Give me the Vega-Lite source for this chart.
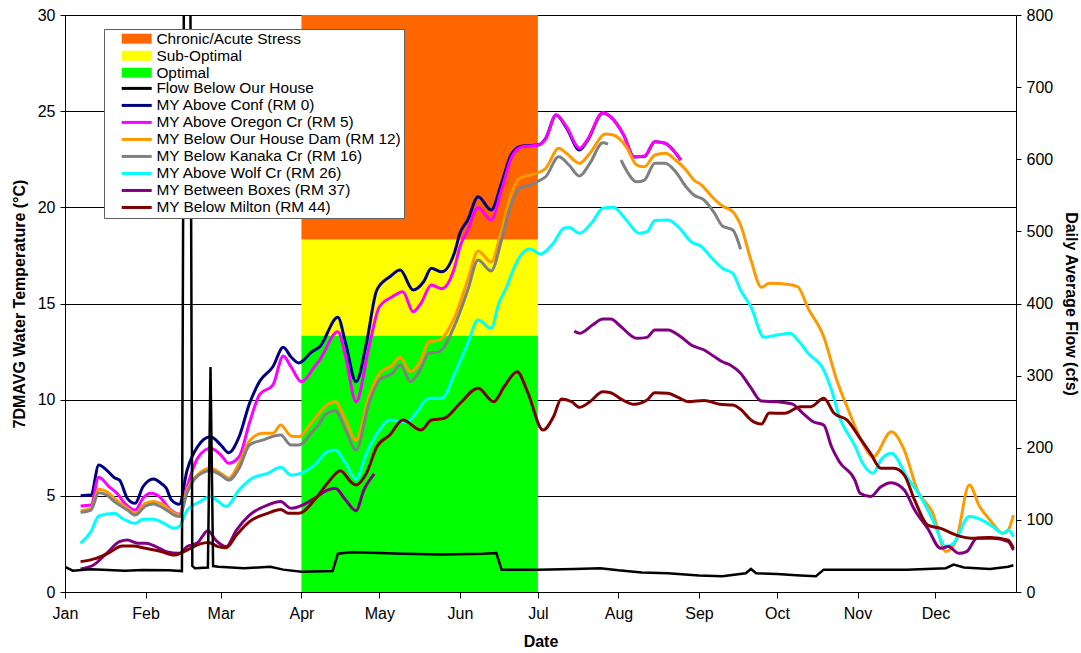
{
"$schema": "https://vega.github.io/schema/vega-lite/v6.json",
"width": 951, "height": 577,
"autosize": {"type": "none"},
"padding": {"left": 65, "top": 15, "right": 65, "bottom": 61},
"config": {"font": "Liberation Sans", "view": {"stroke": null}, "axis": {"labelColor": "black", "titleColor": "black", "domainColor": "black", "tickColor": "black", "labelFontSize": 16, "titleFontSize": 16, "titleFontWeight": "bold", "labelFont": "Liberation Sans", "titleFont": "Liberation Sans"}},
"datasets": {
"names": [
{"k":"N","s":"MY Above Conf (RM 0)"},{"k":"M","s":"MY Above Oregon Cr (RM 5)"},{"k":"O","s":"MY Below Our House Dam (RM 12)"},{"k":"G","s":"MY Below Kanaka Cr (RM 16)"},{"k":"C","s":"MY Above Wolf Cr (RM 26)"},{"k":"P","s":"MY Between Boxes (RM 37)"},{"k":"R","s":"MY Below Milton (RM 44)"}
],
"bands": [
{"s":"Optimal","start":"2008-04-01","end":"2008-07-01","lo":0,"hi":13.33},
{"s":"Sub-Optimal","start":"2008-04-01","end":"2008-07-01","lo":13.33,"hi":18.33},
{"s":"Chronic/Acute Stress","start":"2008-04-01","end":"2008-07-01","lo":18.33,"hi":30}
],
"temp": [
{"k":"N","d":"2008-01-07","v":5.01},{"k":"N","d":"2008-01-11","v":5.04},{"k":"N","d":"2008-01-14","v":6.60},{"k":"N","d":"2008-01-17","v":6.34},{"k":"N","d":"2008-01-20","v":5.94},{"k":"N","d":"2008-01-22","v":5.82},{"k":"N","d":"2008-01-25","v":4.87},{"k":"N","d":"2008-01-28","v":4.61},{"k":"N","d":"2008-01-31","v":5.47},{"k":"N","d":"2008-02-04","v":5.88},{"k":"N","d":"2008-02-07","v":5.65},{"k":"N","d":"2008-02-09","v":5.39},{"k":"N","d":"2008-02-11","v":4.78},{"k":"N","d":"2008-02-14","v":4.56},{"k":"N","d":"2008-02-17","v":6.34},{"k":"N","d":"2008-02-21","v":7.55},{"k":"N","d":"2008-02-26","v":8.07},{"k":"N","d":"2008-03-01","v":7.64},{"k":"N","d":"2008-03-04","v":7.24},{"k":"N","d":"2008-03-08","v":8.07},{"k":"N","d":"2008-03-12","v":9.8},{"k":"N","d":"2008-03-16","v":10.97},{"k":"N","d":"2008-03-21","v":11.71},{"k":"N","d":"2008-03-25","v":12.72},{"k":"N","d":"2008-03-28","v":12.22},{"k":"N","d":"2008-03-31","v":11.91},{"k":"N","d":"2008-04-05","v":12.49},{"k":"N","d":"2008-04-08","v":12.74},{"k":"N","d":"2008-04-15","v":14.28},{"k":"N","d":"2008-04-18","v":12.93},{"k":"N","d":"2008-04-22","v":10.93},{"k":"N","d":"2008-04-26","v":12.93},{"k":"N","d":"2008-04-30","v":15.70},{"k":"N","d":"2008-05-05","v":16.39},{"k":"N","d":"2008-05-09","v":16.74},{"k":"N","d":"2008-05-14","v":15.70},{"k":"N","d":"2008-05-18","v":16.13},{"k":"N","d":"2008-05-21","v":16.83},{"k":"N","d":"2008-05-25","v":16.65},{"k":"N","d":"2008-05-30","v":17.69},{"k":"N","d":"2008-06-01","v":18.65},{"k":"N","d":"2008-06-04","v":19.34},{"k":"N","d":"2008-06-08","v":20.55},{"k":"N","d":"2008-06-13","v":19.86},{"k":"N","d":"2008-06-17","v":21.25},{"k":"N","d":"2008-06-21","v":22.81},{"k":"N","d":"2008-06-25","v":23.19},{"k":"N","d":"2008-07-01","v":23.24},{"k":"N","d":"2008-07-04","v":23.59},{"k":"N","d":"2008-07-08","v":24.80},{"k":"N","d":"2008-07-12","v":24.13},{"k":"N","d":"2008-07-17","v":22.98},{"k":"N","d":"2008-07-20","v":23.45},{"k":"N","d":"2008-07-26","v":24.91},{"k":"N","d":"2008-07-29","v":24.70},{"k":"N","d":"2008-08-03","v":23.76},{"k":"N","d":"2008-08-07","v":22.62},{"k":"N","d":"2008-08-11","v":22.64},{"k":"N","d":"2008-08-15","v":23.41},{"k":"N","d":"2008-08-19","v":23.33},{"k":"N","d":"2008-08-22","v":22.98},{"k":"N","d":"2008-08-25","v":22.46},
{"k":"M","d":"2008-01-07","v":4.47},{"k":"M","d":"2008-01-11","v":4.52},{"k":"M","d":"2008-01-14","v":5.96},{"k":"M","d":"2008-01-18","v":5.47},{"k":"M","d":"2008-01-21","v":5.13},{"k":"M","d":"2008-01-24","v":4.61},{"k":"M","d":"2008-01-28","v":4.26},{"k":"M","d":"2008-01-31","v":4.87},{"k":"M","d":"2008-02-03","v":5.13},{"k":"M","d":"2008-02-07","v":4.87},{"k":"M","d":"2008-02-10","v":4.35},{"k":"M","d":"2008-02-14","v":4.04},{"k":"M","d":"2008-02-17","v":5.47},{"k":"M","d":"2008-02-21","v":6.95},{"k":"M","d":"2008-02-26","v":7.47},{"k":"M","d":"2008-03-01","v":7.12},{"k":"M","d":"2008-03-04","v":6.69},{"k":"M","d":"2008-03-08","v":7.03},{"k":"M","d":"2008-03-12","v":8.8},{"k":"M","d":"2008-03-16","v":10.29},{"k":"M","d":"2008-03-21","v":10.76},{"k":"M","d":"2008-03-25","v":12.27},{"k":"M","d":"2008-03-28","v":11.70},{"k":"M","d":"2008-04-01","v":10.93},{"k":"M","d":"2008-04-06","v":11.71},{"k":"M","d":"2008-04-08","v":12.06},{"k":"M","d":"2008-04-15","v":13.53},{"k":"M","d":"2008-04-18","v":12.23},{"k":"M","d":"2008-04-22","v":9.89},{"k":"M","d":"2008-04-27","v":12.75},{"k":"M","d":"2008-05-01","v":14.83},{"k":"M","d":"2008-05-06","v":15.35},{"k":"M","d":"2008-05-10","v":15.61},{"k":"M","d":"2008-05-14","v":14.57},{"k":"M","d":"2008-05-17","v":15.01},{"k":"M","d":"2008-05-21","v":15.96},{"k":"M","d":"2008-05-25","v":15.77},{"k":"M","d":"2008-05-30","v":16.91},{"k":"M","d":"2008-06-01","v":17.95},{"k":"M","d":"2008-06-04","v":18.82},{"k":"M","d":"2008-06-08","v":19.99},{"k":"M","d":"2008-06-13","v":19.34},{"k":"M","d":"2008-06-17","v":20.90},{"k":"M","d":"2008-06-21","v":22.63},{"k":"M","d":"2008-06-25","v":23.15},{"k":"M","d":"2008-07-01","v":23.24},{"k":"M","d":"2008-07-04","v":23.55},{"k":"M","d":"2008-07-08","v":24.80},{"k":"M","d":"2008-07-12","v":24.19},{"k":"M","d":"2008-07-17","v":23.07},{"k":"M","d":"2008-07-20","v":23.50},{"k":"M","d":"2008-07-26","v":24.92},{"k":"M","d":"2008-07-29","v":24.71},{"k":"M","d":"2008-08-03","v":23.76},{"k":"M","d":"2008-08-07","v":22.63},{"k":"M","d":"2008-08-11","v":22.67},{"k":"M","d":"2008-08-15","v":23.41},{"k":"M","d":"2008-08-19","v":23.33},{"k":"M","d":"2008-08-22","v":22.98},{"k":"M","d":"2008-08-25","v":22.46},
{"k":"O","d":"2008-01-07","v":4.23},{"k":"O","d":"2008-01-11","v":4.35},{"k":"O","d":"2008-01-14","v":5.34},{"k":"O","d":"2008-01-17","v":5.22},{"k":"O","d":"2008-01-20","v":4.87},{"k":"O","d":"2008-01-25","v":4.35},{"k":"O","d":"2008-01-28","v":4.09},{"k":"O","d":"2008-02-01","v":4.61},{"k":"O","d":"2008-02-04","v":4.70},{"k":"O","d":"2008-02-08","v":4.52},{"k":"O","d":"2008-02-12","v":4.09},{"k":"O","d":"2008-02-14","v":4.00},{"k":"O","d":"2008-02-17","v":5.30},{"k":"O","d":"2008-02-21","v":6.08},{"k":"O","d":"2008-02-26","v":6.43},{"k":"O","d":"2008-03-01","v":6.17},{"k":"O","d":"2008-03-04","v":5.91},{"k":"O","d":"2008-03-08","v":6.69},{"k":"O","d":"2008-03-12","v":7.85},{"k":"O","d":"2008-03-17","v":8.25},{"k":"O","d":"2008-03-21","v":8.25},{"k":"O","d":"2008-03-24","v":8.68},{"k":"O","d":"2008-03-28","v":8.11},{"k":"O","d":"2008-03-31","v":8.07},{"k":"O","d":"2008-04-05","v":8.84},{"k":"O","d":"2008-04-08","v":9.33},{"k":"O","d":"2008-04-10","v":9.63},{"k":"O","d":"2008-04-14","v":9.89},{"k":"O","d":"2008-04-18","v":8.94},{"k":"O","d":"2008-04-22","v":7.90},{"k":"O","d":"2008-04-27","v":10.15},{"k":"O","d":"2008-05-01","v":11.37},{"k":"O","d":"2008-05-06","v":11.80},{"k":"O","d":"2008-05-09","v":12.20},{"k":"O","d":"2008-05-13","v":11.45},{"k":"O","d":"2008-05-17","v":12.06},{"k":"O","d":"2008-05-20","v":13.01},{"k":"O","d":"2008-05-24","v":13.10},{"k":"O","d":"2008-05-30","v":14.31},{"k":"O","d":"2008-06-04","v":16.22},{"k":"O","d":"2008-06-08","v":17.73},{"k":"O","d":"2008-06-13","v":17.16},{"k":"O","d":"2008-06-17","v":18.82},{"k":"O","d":"2008-06-20","v":20.38},{"k":"O","d":"2008-06-24","v":21.51},{"k":"O","d":"2008-06-28","v":21.68},{"k":"O","d":"2008-07-02","v":21.85},{"k":"O","d":"2008-07-04","v":22.03},{"k":"O","d":"2008-07-09","v":23.07},{"k":"O","d":"2008-07-12","v":22.81},{"k":"O","d":"2008-07-17","v":22.29},{"k":"O","d":"2008-07-21","v":22.81},{"k":"O","d":"2008-07-27","v":23.81},{"k":"O","d":"2008-07-30","v":23.76},{"k":"O","d":"2008-08-04","v":23.15},{"k":"O","d":"2008-08-08","v":22.20},{"k":"O","d":"2008-08-11","v":22.11},{"k":"O","d":"2008-08-15","v":22.72},{"k":"O","d":"2008-08-19","v":22.81},{"k":"O","d":"2008-08-23","v":22.46},{"k":"O","d":"2008-08-27","v":21.94},{"k":"O","d":"2008-08-30","v":21.42},{"k":"O","d":"2008-09-02","v":21.16},{"k":"O","d":"2008-09-06","v":20.55},{"k":"O","d":"2008-09-10","v":20.07},{"k":"O","d":"2008-09-14","v":19.77},{"k":"O","d":"2008-09-17","v":19.08},{"k":"O","d":"2008-09-21","v":17.26},{"k":"O","d":"2008-09-25","v":15.84},{"k":"O","d":"2008-09-28","v":16.05},{"k":"O","d":"2008-10-05","v":16.00},{"k":"O","d":"2008-10-09","v":15.87},{"k":"O","d":"2008-10-13","v":14.75},{"k":"O","d":"2008-10-19","v":13.27},{"k":"O","d":"2008-10-24","v":11.02},{"k":"O","d":"2008-10-29","v":9.29},{"k":"O","d":"2008-11-03","v":7.73},{"k":"O","d":"2008-11-07","v":7.03},{"k":"O","d":"2008-11-14","v":8.33},{"k":"O","d":"2008-11-19","v":7.38},{"k":"O","d":"2008-11-24","v":5.30},{"k":"O","d":"2008-11-30","v":4.09},{"k":"O","d":"2008-12-05","v":2.10},{"k":"O","d":"2008-12-09","v":2.70},{"k":"O","d":"2008-12-14","v":5.56},{"k":"O","d":"2008-12-18","v":4.44},{"k":"O","d":"2008-12-22","v":3.74},{"k":"O","d":"2008-12-27","v":3.05},{"k":"O","d":"2008-12-29","v":3.22},{"k":"O","d":"2008-12-31","v":4.00},
{"k":"G","g":"a","d":"2008-01-07","v":4.14},{"k":"G","g":"a","d":"2008-01-11","v":4.26},{"k":"G","g":"a","d":"2008-01-14","v":5.16},{"k":"G","g":"a","d":"2008-01-17","v":5.04},{"k":"G","g":"a","d":"2008-01-20","v":4.70},{"k":"G","g":"a","d":"2008-01-25","v":4.26},{"k":"G","g":"a","d":"2008-01-28","v":4.00},{"k":"G","g":"a","d":"2008-02-01","v":4.47},{"k":"G","g":"a","d":"2008-02-04","v":4.58},{"k":"G","g":"a","d":"2008-02-08","v":4.35},{"k":"G","g":"a","d":"2008-02-12","v":4.00},{"k":"G","g":"a","d":"2008-02-14","v":3.92},{"k":"G","g":"a","d":"2008-02-17","v":5.16},{"k":"G","g":"a","d":"2008-02-21","v":6.03},{"k":"G","g":"a","d":"2008-02-26","v":6.31},{"k":"G","g":"a","d":"2008-03-01","v":6.08},{"k":"G","g":"a","d":"2008-03-04","v":5.82},{"k":"G","g":"a","d":"2008-03-08","v":6.43},{"k":"G","g":"a","d":"2008-03-12","v":7.64},{"k":"G","g":"a","d":"2008-03-17","v":7.90},{"k":"G","g":"a","d":"2008-03-24","v":8.16},{"k":"G","g":"a","d":"2008-03-28","v":7.64},{"k":"G","g":"a","d":"2008-03-31","v":7.64},{"k":"G","g":"a","d":"2008-04-05","v":8.29},{"k":"G","g":"a","d":"2008-04-08","v":8.77},{"k":"G","g":"a","d":"2008-04-10","v":9.20},{"k":"G","g":"a","d":"2008-04-14","v":9.43},{"k":"G","g":"a","d":"2008-04-18","v":8.42},{"k":"G","g":"a","d":"2008-04-22","v":7.38},{"k":"G","g":"a","d":"2008-04-27","v":9.81},{"k":"G","g":"a","d":"2008-05-01","v":11.02},{"k":"G","g":"a","d":"2008-05-06","v":11.37},{"k":"G","g":"a","d":"2008-05-09","v":11.80},{"k":"G","g":"a","d":"2008-05-13","v":10.93},{"k":"G","g":"a","d":"2008-05-17","v":11.63},{"k":"G","g":"a","d":"2008-05-20","v":12.41},{"k":"G","g":"a","d":"2008-05-24","v":12.49},{"k":"G","g":"a","d":"2008-05-30","v":13.88},{"k":"G","g":"a","d":"2008-06-04","v":15.70},{"k":"G","g":"a","d":"2008-06-08","v":17.26},{"k":"G","g":"a","d":"2008-06-13","v":16.69},{"k":"G","g":"a","d":"2008-06-17","v":18.30},{"k":"G","g":"a","d":"2008-06-20","v":19.86},{"k":"G","g":"a","d":"2008-06-24","v":20.99},{"k":"G","g":"a","d":"2008-06-28","v":21.16},{"k":"G","g":"a","d":"2008-07-02","v":21.42},{"k":"G","g":"a","d":"2008-07-04","v":21.59},{"k":"G","g":"a","d":"2008-07-09","v":22.63},{"k":"G","g":"a","d":"2008-07-13","v":22.20},{"k":"G","g":"a","d":"2008-07-17","v":21.63},{"k":"G","g":"a","d":"2008-07-21","v":22.29},{"k":"G","g":"a","d":"2008-07-26","v":23.36},{"k":"G","g":"a","d":"2008-07-28","v":23.29},
{"k":"G","g":"b","d":"2008-08-02","v":22.46},{"k":"G","g":"b","d":"2008-08-04","v":21.94},{"k":"G","g":"b","d":"2008-08-08","v":21.33},{"k":"G","g":"b","d":"2008-08-11","v":21.42},{"k":"G","g":"b","d":"2008-08-15","v":22.29},{"k":"G","g":"b","d":"2008-08-19","v":22.29},{"k":"G","g":"b","d":"2008-08-23","v":21.85},{"k":"G","g":"b","d":"2008-08-27","v":21.07},{"k":"G","g":"b","d":"2008-08-30","v":20.64},{"k":"G","g":"b","d":"2008-09-03","v":20.38},{"k":"G","g":"b","d":"2008-09-07","v":19.69},{"k":"G","g":"b","d":"2008-09-10","v":19.03},{"k":"G","g":"b","d":"2008-09-14","v":18.82},{"k":"G","g":"b","d":"2008-09-17","v":17.82},
{"k":"C","d":"2008-01-07","v":2.53},{"k":"C","d":"2008-01-11","v":3.14},{"k":"C","d":"2008-01-14","v":3.95},{"k":"C","d":"2008-01-20","v":4.09},{"k":"C","d":"2008-01-23","v":3.83},{"k":"C","d":"2008-01-28","v":3.57},{"k":"C","d":"2008-01-31","v":3.78},{"k":"C","d":"2008-02-04","v":3.78},{"k":"C","d":"2008-02-08","v":3.57},{"k":"C","d":"2008-02-12","v":3.31},{"k":"C","d":"2008-02-14","v":3.40},{"k":"C","d":"2008-02-17","v":4.26},{"k":"C","d":"2008-02-22","v":4.70},{"k":"C","d":"2008-02-26","v":4.96},{"k":"C","d":"2008-02-29","v":4.70},{"k":"C","d":"2008-03-03","v":4.44},{"k":"C","d":"2008-03-08","v":5.30},{"k":"C","d":"2008-03-13","v":5.91},{"k":"C","d":"2008-03-19","v":6.17},{"k":"C","d":"2008-03-24","v":6.48},{"k":"C","d":"2008-03-28","v":6.08},{"k":"C","d":"2008-03-31","v":6.14},{"k":"C","d":"2008-04-06","v":6.60},{"k":"C","d":"2008-04-11","v":7.30},{"k":"C","d":"2008-04-14","v":7.38},{"k":"C","d":"2008-04-18","v":6.69},{"k":"C","d":"2008-04-22","v":5.86},{"k":"C","d":"2008-04-26","v":7.21},{"k":"C","d":"2008-05-01","v":8.42},{"k":"C","d":"2008-05-05","v":8.94},{"k":"C","d":"2008-05-12","v":8.85},{"k":"C","d":"2008-05-15","v":9.29},{"k":"C","d":"2008-05-20","v":10.07},{"k":"C","d":"2008-05-25","v":10.07},{"k":"C","d":"2008-05-30","v":11.37},{"k":"C","d":"2008-06-04","v":12.93},{"k":"C","d":"2008-06-08","v":14.14},{"k":"C","d":"2008-06-13","v":13.71},{"k":"C","d":"2008-06-16","v":15.01},{"k":"C","d":"2008-06-19","v":15.87},{"k":"C","d":"2008-06-22","v":16.91},{"k":"C","d":"2008-06-24","v":17.43},{"k":"C","d":"2008-06-28","v":17.83},{"k":"C","d":"2008-07-02","v":17.57},{"k":"C","d":"2008-07-07","v":18.15},{"k":"C","d":"2008-07-11","v":18.91},{"k":"C","d":"2008-07-13","v":18.95},{"k":"C","d":"2008-07-17","v":18.65},{"k":"C","d":"2008-07-22","v":19.25},{"k":"C","d":"2008-07-26","v":19.95},{"k":"C","d":"2008-07-30","v":20.00},{"k":"C","d":"2008-08-04","v":19.34},{"k":"C","d":"2008-08-09","v":18.65},{"k":"C","d":"2008-08-12","v":18.73},{"k":"C","d":"2008-08-15","v":19.31},{"k":"C","d":"2008-08-20","v":19.34},{"k":"C","d":"2008-08-24","v":18.99},{"k":"C","d":"2008-08-29","v":18.21},{"k":"C","d":"2008-09-02","v":17.95},{"k":"C","d":"2008-09-06","v":17.35},{"k":"C","d":"2008-09-10","v":16.83},{"k":"C","d":"2008-09-14","v":16.57},{"k":"C","d":"2008-09-17","v":15.70},{"k":"C","d":"2008-09-21","v":14.83},{"k":"C","d":"2008-09-26","v":13.24},{"k":"C","d":"2008-10-01","v":13.36},{"k":"C","d":"2008-10-06","v":13.45},{"k":"C","d":"2008-10-09","v":13.10},{"k":"C","d":"2008-10-13","v":12.41},{"k":"C","d":"2008-10-19","v":11.54},{"k":"C","d":"2008-10-22","v":10.50},{"k":"C","d":"2008-10-25","v":9.11},{"k":"C","d":"2008-10-31","v":7.60},{"k":"C","d":"2008-11-03","v":6.69},{"k":"C","d":"2008-11-07","v":6.17},{"k":"C","d":"2008-11-10","v":6.86},{"k":"C","d":"2008-11-14","v":7.21},{"k":"C","d":"2008-11-20","v":5.99},{"k":"C","d":"2008-11-26","v":4.78},{"k":"C","d":"2008-11-30","v":3.74},{"k":"C","d":"2008-12-05","v":2.36},{"k":"C","d":"2008-12-08","v":2.53},{"k":"C","d":"2008-12-14","v":3.92},{"k":"C","d":"2008-12-20","v":3.66},{"k":"C","d":"2008-12-23","v":3.40},{"k":"C","d":"2008-12-27","v":3.05},{"k":"C","d":"2008-12-29","v":3.22},{"k":"C","d":"2008-12-31","v":2.88},
{"k":"P","g":"a","d":"2008-01-07","v":1.20},{"k":"P","g":"a","d":"2008-01-12","v":1.40},{"k":"P","g":"a","d":"2008-01-17","v":2.01},{"k":"P","g":"a","d":"2008-01-22","v":2.62},{"k":"P","g":"a","d":"2008-01-25","v":2.70},{"k":"P","g":"a","d":"2008-01-29","v":2.53},{"k":"P","g":"a","d":"2008-02-01","v":2.53},{"k":"P","g":"a","d":"2008-02-05","v":2.36},{"k":"P","g":"a","d":"2008-02-09","v":2.10},{"k":"P","g":"a","d":"2008-02-14","v":2.01},{"k":"P","g":"a","d":"2008-02-17","v":2.36},{"k":"P","g":"a","d":"2008-02-21","v":2.56},{"k":"P","g":"a","d":"2008-02-25","v":3.19},{"k":"P","g":"a","d":"2008-02-28","v":2.70},{"k":"P","g":"a","d":"2008-03-03","v":2.36},{"k":"P","g":"a","d":"2008-03-07","v":3.22},{"k":"P","g":"a","d":"2008-03-12","v":4.00},{"k":"P","g":"a","d":"2008-03-19","v":4.52},{"k":"P","g":"a","d":"2008-03-24","v":4.70},{"k":"P","g":"a","d":"2008-03-28","v":4.35},{"k":"P","g":"a","d":"2008-03-31","v":4.44},{"k":"P","g":"a","d":"2008-04-06","v":4.87},{"k":"P","g":"a","d":"2008-04-11","v":5.30},{"k":"P","g":"a","d":"2008-04-14","v":5.39},{"k":"P","g":"a","d":"2008-04-18","v":4.78},{"k":"P","g":"a","d":"2008-04-22","v":4.23},{"k":"P","g":"a","d":"2008-04-25","v":5.30},{"k":"P","g":"a","d":"2008-04-29","v":6.14},
{"k":"P","g":"b","d":"2008-07-15","v":13.57},{"k":"P","g":"b","d":"2008-07-17","v":13.45},{"k":"P","g":"b","d":"2008-07-22","v":13.88},{"k":"P","g":"b","d":"2008-07-26","v":14.19},{"k":"P","g":"b","d":"2008-07-29","v":14.19},{"k":"P","g":"b","d":"2008-08-02","v":13.79},{"k":"P","g":"b","d":"2008-08-08","v":13.19},{"k":"P","g":"b","d":"2008-08-12","v":13.24},{"k":"P","g":"b","d":"2008-08-15","v":13.62},{"k":"P","g":"b","d":"2008-08-20","v":13.62},{"k":"P","g":"b","d":"2008-08-25","v":13.27},{"k":"P","g":"b","d":"2008-08-29","v":12.84},{"k":"P","g":"b","d":"2008-09-03","v":12.58},{"k":"P","g":"b","d":"2008-09-07","v":12.23},{"k":"P","g":"b","d":"2008-09-10","v":11.97},{"k":"P","g":"b","d":"2008-09-13","v":11.80},{"k":"P","g":"b","d":"2008-09-17","v":11.37},{"k":"P","g":"b","d":"2008-09-21","v":10.61},{"k":"P","g":"b","d":"2008-09-25","v":9.93},{"k":"P","g":"b","d":"2008-10-01","v":9.89},{"k":"P","g":"b","d":"2008-10-07","v":9.77},{"k":"P","g":"b","d":"2008-10-11","v":9.29},{"k":"P","g":"b","d":"2008-10-15","v":8.85},{"k":"P","g":"b","d":"2008-10-19","v":8.68},{"k":"P","g":"b","d":"2008-10-22","v":7.55},{"k":"P","g":"b","d":"2008-10-25","v":6.77},{"k":"P","g":"b","d":"2008-10-31","v":5.82},{"k":"P","g":"b","d":"2008-11-02","v":5.13},{"k":"P","g":"b","d":"2008-11-06","v":4.96},{"k":"P","g":"b","d":"2008-11-10","v":5.47},{"k":"P","g":"b","d":"2008-11-14","v":5.68},{"k":"P","g":"b","d":"2008-11-19","v":5.30},{"k":"P","g":"b","d":"2008-11-23","v":4.26},{"k":"P","g":"b","d":"2008-11-28","v":3.31},{"k":"P","g":"b","d":"2008-12-03","v":2.27},{"k":"P","g":"b","d":"2008-12-06","v":2.36},{"k":"P","g":"b","d":"2008-12-10","v":2.01},{"k":"P","g":"b","d":"2008-12-13","v":2.10},{"k":"P","g":"b","d":"2008-12-17","v":2.79},{"k":"P","g":"b","d":"2008-12-23","v":2.79},{"k":"P","g":"b","d":"2008-12-29","v":2.62},{"k":"P","g":"b","d":"2008-12-31","v":2.18},
{"k":"R","d":"2008-01-07","v":1.58},{"k":"R","d":"2008-01-13","v":1.75},{"k":"R","d":"2008-01-18","v":2.04},{"k":"R","d":"2008-01-23","v":2.39},{"k":"R","d":"2008-01-27","v":2.39},{"k":"R","d":"2008-02-01","v":2.27},{"k":"R","d":"2008-02-07","v":2.10},{"k":"R","d":"2008-02-12","v":1.92},{"k":"R","d":"2008-02-17","v":2.18},{"k":"R","d":"2008-02-22","v":2.50},{"k":"R","d":"2008-02-25","v":2.58},{"k":"R","d":"2008-02-29","v":2.36},{"k":"R","d":"2008-03-03","v":2.30},{"k":"R","d":"2008-03-07","v":2.96},{"k":"R","d":"2008-03-12","v":3.66},{"k":"R","d":"2008-03-19","v":4.09},{"k":"R","d":"2008-03-24","v":4.29},{"k":"R","d":"2008-03-27","v":4.09},{"k":"R","d":"2008-03-31","v":4.09},{"k":"R","d":"2008-04-06","v":4.78},{"k":"R","d":"2008-04-11","v":5.65},{"k":"R","d":"2008-04-16","v":6.31},{"k":"R","d":"2008-04-20","v":5.73},{"k":"R","d":"2008-04-22","v":5.56},{"k":"R","d":"2008-04-26","v":6.17},{"k":"R","d":"2008-04-30","v":7.55},{"k":"R","d":"2008-05-05","v":8.16},{"k":"R","d":"2008-05-10","v":8.94},{"k":"R","d":"2008-05-17","v":8.42},{"k":"R","d":"2008-05-21","v":8.94},{"k":"R","d":"2008-05-26","v":9.03},{"k":"R","d":"2008-06-01","v":9.81},{"k":"R","d":"2008-06-08","v":10.59},{"k":"R","d":"2008-06-14","v":9.89},{"k":"R","d":"2008-06-18","v":10.67},{"k":"R","d":"2008-06-23","v":11.45},{"k":"R","d":"2008-06-27","v":10.41},{"k":"R","d":"2008-07-03","v":8.42},{"k":"R","d":"2008-07-07","v":9.11},{"k":"R","d":"2008-07-10","v":10.03},{"k":"R","d":"2008-07-14","v":9.89},{"k":"R","d":"2008-07-17","v":9.60},{"k":"R","d":"2008-07-21","v":9.89},{"k":"R","d":"2008-07-26","v":10.41},{"k":"R","d":"2008-07-29","v":10.36},{"k":"R","d":"2008-08-02","v":10.03},{"k":"R","d":"2008-08-07","v":9.76},{"k":"R","d":"2008-08-12","v":9.98},{"k":"R","d":"2008-08-15","v":10.36},{"k":"R","d":"2008-08-20","v":10.33},{"k":"R","d":"2008-08-24","v":10.12},{"k":"R","d":"2008-08-28","v":9.89},{"k":"R","d":"2008-09-03","v":9.96},{"k":"R","d":"2008-09-09","v":9.76},{"k":"R","d":"2008-09-14","v":9.72},{"k":"R","d":"2008-09-17","v":9.50},{"k":"R","d":"2008-09-21","v":8.94},{"k":"R","d":"2008-09-25","v":8.73},{"k":"R","d":"2008-09-28","v":9.31},{"k":"R","d":"2008-10-04","v":9.29},{"k":"R","d":"2008-10-10","v":9.63},{"k":"R","d":"2008-10-14","v":9.63},{"k":"R","d":"2008-10-19","v":10.07},{"k":"R","d":"2008-10-23","v":9.29},{"k":"R","d":"2008-10-28","v":8.94},{"k":"R","d":"2008-11-02","v":7.99},{"k":"R","d":"2008-11-06","v":7.21},{"k":"R","d":"2008-11-10","v":6.43},{"k":"R","d":"2008-11-15","v":6.43},{"k":"R","d":"2008-11-19","v":6.08},{"k":"R","d":"2008-11-23","v":4.78},{"k":"R","d":"2008-11-28","v":3.48},{"k":"R","d":"2008-12-03","v":3.31},{"k":"R","d":"2008-12-09","v":2.96},{"k":"R","d":"2008-12-16","v":2.79},{"k":"R","d":"2008-12-22","v":2.84},{"k":"R","d":"2008-12-29","v":2.70},{"k":"R","d":"2008-12-31","v":2.27}
],
"flow": [
{"s":"Flow Below Our House","d":"2008-01-01","f":35},{"s":"Flow Below Our House","d":"2008-01-04","f":29.5},{"s":"Flow Below Our House","d":"2008-01-11","f":31.5},{"s":"Flow Below Our House","d":"2008-01-24","f":29.5},{"s":"Flow Below Our House","d":"2008-01-31","f":30.5},{"s":"Flow Below Our House","d":"2008-02-10","f":30},{"s":"Flow Below Our House","d":"2008-02-15","f":29},{"s":"Flow Below Our House","d":"2008-02-16","f":1100},{"s":"Flow Below Our House","d":"2008-02-17","f":1200},{"s":"Flow Below Our House","d":"2008-02-18","f":1100},{"s":"Flow Below Our House","d":"2008-02-19","f":36},{"s":"Flow Below Our House","d":"2008-02-20","f":33},{"s":"Flow Below Our House","d":"2008-02-25","f":34},{"s":"Flow Below Our House","d":"2008-02-26","f":312},{"s":"Flow Below Our House","d":"2008-02-27","f":36},{"s":"Flow Below Our House","d":"2008-02-29","f":35},{"s":"Flow Below Our House","d":"2008-03-10","f":33},{"s":"Flow Below Our House","d":"2008-03-20","f":35},{"s":"Flow Below Our House","d":"2008-03-25","f":31},{"s":"Flow Below Our House","d":"2008-04-01","f":28},{"s":"Flow Below Our House","d":"2008-04-13","f":29},{"s":"Flow Below Our House","d":"2008-04-15","f":53},{"s":"Flow Below Our House","d":"2008-04-20","f":55},{"s":"Flow Below Our House","d":"2008-05-01","f":54},{"s":"Flow Below Our House","d":"2008-05-10","f":53},{"s":"Flow Below Our House","d":"2008-05-25","f":52},{"s":"Flow Below Our House","d":"2008-06-10","f":53},{"s":"Flow Below Our House","d":"2008-06-15","f":54},{"s":"Flow Below Our House","d":"2008-06-17","f":31},{"s":"Flow Below Our House","d":"2008-07-01","f":31},{"s":"Flow Below Our House","d":"2008-07-15","f":32},{"s":"Flow Below Our House","d":"2008-07-25","f":33},{"s":"Flow Below Our House","d":"2008-08-01","f":30},{"s":"Flow Below Our House","d":"2008-08-10","f":27},{"s":"Flow Below Our House","d":"2008-08-20","f":26},{"s":"Flow Below Our House","d":"2008-09-01","f":23},{"s":"Flow Below Our House","d":"2008-09-10","f":22},{"s":"Flow Below Our House","d":"2008-09-19","f":26},{"s":"Flow Below Our House","d":"2008-09-21","f":32},{"s":"Flow Below Our House","d":"2008-09-23","f":26},{"s":"Flow Below Our House","d":"2008-10-01","f":25},{"s":"Flow Below Our House","d":"2008-10-10","f":23},{"s":"Flow Below Our House","d":"2008-10-16","f":22},{"s":"Flow Below Our House","d":"2008-10-19","f":31},{"s":"Flow Below Our House","d":"2008-11-01","f":31},{"s":"Flow Below Our House","d":"2008-11-20","f":31},{"s":"Flow Below Our House","d":"2008-12-05","f":33},{"s":"Flow Below Our House","d":"2008-12-08","f":38},{"s":"Flow Below Our House","d":"2008-12-12","f":34},{"s":"Flow Below Our House","d":"2008-12-22","f":32},{"s":"Flow Below Our House","d":"2008-12-29","f":35},{"s":"Flow Below Our House","d":"2008-12-31","f":37}
]
},
"layer": [
{"layer": [
 {"data": {"name": "bands"},
  "mark": {"type": "rect", "opacity": 1},
  "encoding": {
   "x": {"field": "start", "type": "temporal",
     "scale": {"type": "utc", "domain": [{"year": 2008, "month": 1, "date": 1, "utc": true}, {"year": 2009, "month": 1, "date": 1, "utc": true}]},
     "axis": {"title": "Date", "labelExpr": "utcFormat(datum.value, '%b')", "labelFlush": false, "labelOverlap": false, "grid": false, "tickSize": 6, "labelPadding": 7, "titlePadding": 12,
       "values": [{"year":2008,"month":1,"date":1,"utc":true},{"year":2008,"month":2,"date":1,"utc":true},{"year":2008,"month":3,"date":1,"utc":true},{"year":2008,"month":4,"date":1,"utc":true},{"year":2008,"month":5,"date":1,"utc":true},{"year":2008,"month":6,"date":1,"utc":true},{"year":2008,"month":7,"date":1,"utc":true},{"year":2008,"month":8,"date":1,"utc":true},{"year":2008,"month":9,"date":1,"utc":true},{"year":2008,"month":10,"date":1,"utc":true},{"year":2008,"month":11,"date":1,"utc":true},{"year":2008,"month":12,"date":1,"utc":true}]}},
   "x2": {"field": "end"},
   "y": {"field": "lo", "type": "quantitative", "scale": {"domain": [0, 30], "nice": false},
     "axis": {"title": "7DMAVG Water Temperature (°C)", "values": [0, 5, 10, 15, 20, 25, 30], "grid": true, "gridColor": "black", "gridWidth": 1, "gridOpacity": 1, "tickSize": 5, "labelPadding": 5, "titlePadding": 10}},
   "y2": {"field": "hi"},
   "fill": {"field": "s", "type": "nominal",
     "scale": {"domain": ["Chronic/Acute Stress", "Sub-Optimal", "Optimal"], "range": ["#FF6600", "#FFFF00", "#00FF00"]},
     "legend": {"title": null, "orient": "none", "legendX": 39, "legendY": 14, "padding": 2, "zindex": 3,
       "labelFontSize": 15.4, "labelColor": "black", "labelLimit": 600,
       "rowPadding": 0.01, "symbolOffset": 23, "labelOffset": 12, "symbolSize": 100,
       "symbolType": "M-3,-1H3V1H-3Z", "symbolStrokeWidth": 0, "symbolOpacity": 1}
   }
  }
 },
 {"data": {"name": "temp"},
  "transform": [{"lookup": "k", "from": {"data": {"name": "names"}, "key": "k", "fields": ["s"]}}],
  "mark": {"type": "line", "strokeWidth": 3, "interpolate": "monotone"},
  "encoding": {
   "x": {"field": "d", "type": "temporal"},
   "y": {"field": "v", "type": "quantitative"},
   "stroke": {"field": "s", "type": "nominal",
     "scale": {"domain": ["Flow Below Our House", "MY Above Conf (RM 0)", "MY Above Oregon Cr (RM 5)", "MY Below Our House Dam (RM 12)", "MY Below Kanaka Cr (RM 16)", "MY Above Wolf Cr (RM 26)", "MY Between Boxes (RM 37)", "MY Below Milton (RM 44)"],
       "range": ["#000000", "#000080", "#FF00FF", "#FF9900", "#808080", "#00FFFF", "#800080", "#800000"]},
     "legend": {"title": "\u00a0\u00a0\u00a0\u00a0\u00a0\u00a0\u00a0\u00a0\u00a0\u00a0\u00a0\u00a0\u00a0\u00a0\u00a0\u00a0\u00a0\u00a0\u00a0\u00a0\u00a0\u00a0\u00a0\u00a0\u00a0\u00a0\u00a0\u00a0", "titleFontSize": 46.2, "titleLimit": 2000, "titlePadding": 3.5, "orient": "none", "legendX": 39, "legendY": 14, "padding": 2, "zindex": 2,
       "fillColor": "white", "strokeColor": "#606060",
       "labelFontSize": 15.4, "labelColor": "black", "labelLimit": 600,
       "rowPadding": 0.01, "symbolOffset": 23, "labelOffset": 12, "symbolSize": 100,
       "symbolType": "M-3,0H3", "symbolStrokeWidth": 3, "symbolOpacity": 1}},
   "detail": {"field": "g"}
  }
 }
]},
{"data": {"name": "flow"},
 "mark": {"type": "line", "strokeWidth": 2.5, "clip": true},
 "encoding": {
  "x": {"field": "d", "type": "temporal"},
  "y": {"field": "f", "type": "quantitative", "scale": {"domain": [0, 800], "nice": false},
    "axis": {"orient": "right", "title": "Daily Average Flow (cfs)", "values": [0, 100, 200, 300, 400, 500, 600, 700, 800], "grid": false, "tickSize": 5, "labelPadding": 5, "titlePadding": 10}},
  "stroke": {"field": "s", "type": "nominal"}
 }
}
],
"resolve": {"scale": {"y": "independent"}}
}
